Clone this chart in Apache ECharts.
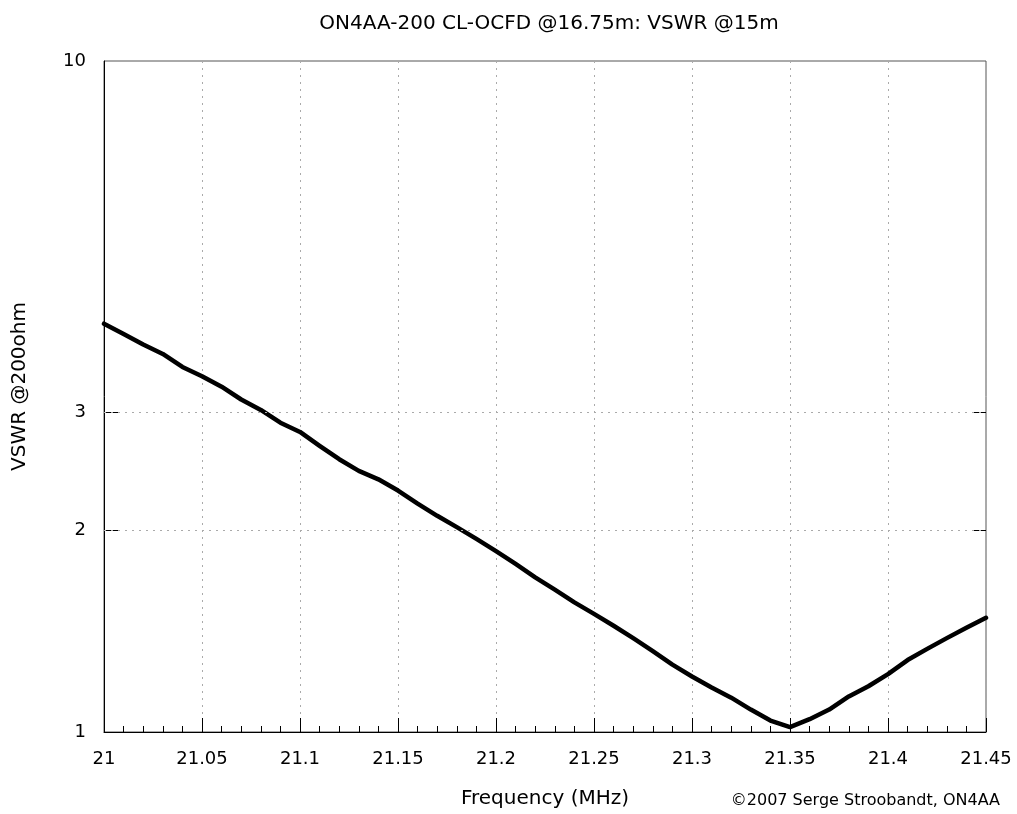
<!DOCTYPE html>
<html>
<head>
<meta charset="utf-8">
<script src="https://cdn.jsdelivr.net/npm/echarts@6/dist/echarts.min.js"></script>
<style>html,body{margin:0;padding:0;background:#fff}#c{width:1017px;height:814px}</style>
</head>
<body>
<div id="c"></div>
<script>
const titleText = 'ON4AA-200 CL-OCFD @16.75m: VSWR @15m';
const xName = 'Frequency (MHz)';
const yName = 'VSWR @200ohm';
const credit = '\u00A92007 Serge Stroobandt, ON4AA';
const yTickLabels = [1, 2, 3, 10];
const yGridValues = [2, 3];
const freq = [21.00,21.01,21.02,21.03,21.04,21.05,21.06,21.07,21.08,21.09,
  21.10,21.11,21.12,21.13,21.14,21.15,21.16,21.17,21.18,21.19,
  21.20,21.21,21.22,21.23,21.24,21.25,21.26,21.27,21.28,21.29,
  21.30,21.31,21.32,21.33,21.34,21.35,21.36,21.37,21.38,21.39,
  21.40,21.41,21.42,21.43,21.44,21.45];
const vswr = [4.06,3.92,3.78,3.66,3.50,3.39,3.27,3.13,3.02,2.89,
  2.80,2.67,2.55,2.45,2.38,2.29,2.19,2.10,2.02,1.94,
  1.86,1.78,1.70,1.63,1.56,1.50,1.44,1.38,1.32,1.26,
  1.21,1.165,1.125,1.08,1.04,1.017,1.045,1.08,1.13,1.17,
  1.22,1.28,1.33,1.38,1.43,1.48];

const FONT = 'DejaVu Sans';
const chart = echarts.init(document.getElementById('c'), null, {renderer: 'canvas'});
const gridLine = {show: true, lineStyle: {color: '#aaa', type: [2, 5], width: 1}};
chart.setOption({
  animation: false,
  backgroundColor: '#fff',
  title: {
    text: titleText, left: 544, top: 9, textAlign: 'center',
    textStyle: {fontFamily: FONT, fontSize: 20, fontWeight: 'normal', color: '#000'}
  },
  grid: {left: 104, right: 31, top: 61, bottom: 81, show: true, borderColor: '#555', borderWidth: 1, backgroundColor: 'transparent'},
  xAxis: {
    type: 'value', min: 21, max: 21.45, interval: 0.05,
    name: xName, nameLocation: 'middle', nameGap: 57,
    nameTextStyle: {fontFamily: FONT, fontSize: 20, color: '#000'},
    axisLine: {lineStyle: {color: '#000', width: 1}},
    axisTick: {inside: true, length: 14, lineStyle: {color: '#000'}},
    minorTick: {show: true, splitNumber: 5, length: 6, lineStyle: {color: '#000'}},
    axisLabel: {fontFamily: FONT, fontSize: 18, color: '#000', margin: 18},
    splitLine: gridLine
  },
  yAxis: [{
    type: 'log', logBase: 10, min: 1, max: 10,
    name: yName, nameLocation: 'middle', nameGap: 74, nameRotate: 90,
    nameTextStyle: {fontFamily: FONT, fontSize: 20, color: '#000', padding: [0, 0, 0, 20]},
    axisLine: {show: true, lineStyle: {color: '#000', width: 1}},
    axisTick: {show: true, inside: true, length: 14, customValues: yGridValues, lineStyle: {color: '#000'}},
    axisLabel: {fontFamily: FONT, fontSize: 18, color: '#000', margin: 18, customValues: yTickLabels},
    splitLine: {show: false}
  }, {
    type: 'log', logBase: 10, min: 1, max: 10, position: 'right',
    axisLine: {show: false},
    axisTick: {show: true, inside: true, length: 14, customValues: yGridValues, lineStyle: {color: '#000'}},
    axisLabel: {show: false},
    splitLine: {show: false}
  }],
  graphic: [{
    type: 'text', right: 17, top: 793,
    style: {text: credit, font: '16px "DejaVu Sans"', fill: '#000'}
  }],
  series: [{
    type: 'line', yAxisIndex: 0,
    data: freq.map((f, i) => [f, vswr[i]]),
    showSymbol: false, symbol: 'none',
    lineStyle: {color: '#000', width: 4.5, join: 'round', cap: 'round'},
    markLine: {
      silent: true, symbol: 'none', label: {show: false},
      lineStyle: {color: '#aaa', type: [2, 5], width: 1},
      data: yGridValues.map(v => ({yAxis: v}))
    }
  }]
});
</script>
</body>
</html>
